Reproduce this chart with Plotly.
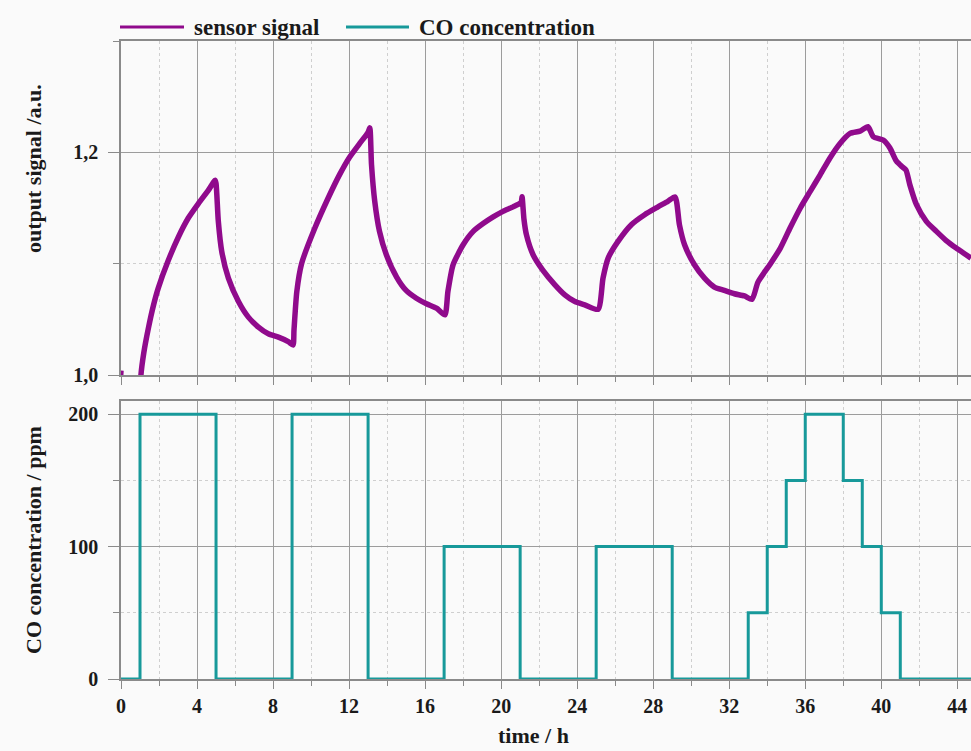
import plotly.graph_objects as go

# ---- data -------------------------------------------------------------
# sensor response (a.u.) versus time (h)
sig_time = [0.0, 0.05, 1.0, 1.05, 1.2, 1.44, 1.7, 1.96, 2.49, 3.02, 3.54, 4.07, 4.6, 4.95,
            5.0, 5.12, 5.3, 5.65, 6.18, 6.7, 7.23, 7.75, 8.28, 8.8, 9.05,
            9.1, 9.25, 9.5, 10.2, 10.9, 11.5, 12.0, 12.56, 13.0, 13.09,
            13.18, 13.35, 13.6, 13.96, 14.5, 15.0, 15.54, 16.07, 16.6, 17.04,
            17.2, 17.47, 18.0, 18.53, 19.05, 19.58, 20.1, 20.63, 21.05, 21.1,
            21.2, 21.33, 21.68, 22.2, 22.83, 23.35, 23.88, 24.4, 25.1,
            25.36, 25.63, 26.15, 26.85, 27.55, 28.25, 28.77, 29.15,
            29.38, 29.65, 30.17, 30.7, 31.22, 31.74, 32.27, 32.8, 33.2,
            33.5, 33.84, 34.17, 34.69, 35.2, 35.74, 36.26, 36.79, 37.3, 37.83,
            38.36, 38.88, 39.3, 39.58, 40.1, 40.45, 40.8, 41.1, 41.3,
            41.5, 41.85, 42.37, 42.9, 43.4, 43.94, 44.46, 44.72]
sig_value = [1.004, 0.96, 0.96, 1.0, 1.02, 1.042, 1.062, 1.078, 1.103, 1.124, 1.141, 1.154, 1.166, 1.175,
             1.172, 1.138, 1.111, 1.087, 1.066, 1.052, 1.043, 1.037, 1.034, 1.030, 1.027,
             1.040, 1.075, 1.100, 1.132, 1.159, 1.180, 1.195, 1.208, 1.218, 1.222,
             1.189, 1.156, 1.129, 1.108, 1.088, 1.076, 1.069, 1.064, 1.060, 1.054,
             1.075, 1.099, 1.117, 1.129, 1.136, 1.142, 1.147, 1.151, 1.155, 1.160,
             1.140, 1.126, 1.108, 1.094, 1.081, 1.072, 1.066, 1.063, 1.059,
             1.087, 1.105, 1.120, 1.135, 1.144, 1.151, 1.156, 1.160,
             1.135, 1.117, 1.099, 1.087, 1.079, 1.076, 1.073, 1.071, 1.068,
             1.083, 1.092, 1.100, 1.114, 1.132, 1.150, 1.165, 1.180, 1.195, 1.208,
             1.217, 1.219, 1.223, 1.214, 1.211, 1.204, 1.192, 1.187, 1.184,
             1.171, 1.153, 1.138, 1.129, 1.121, 1.114, 1.108, 1.105]

# CO dosing profile (ppm), step changes
co_time = [0, 1, 5, 9, 13, 17, 21, 25, 29, 33, 34, 35, 36, 38, 39, 40, 41, 45]
co_ppm = [0, 200, 0, 200, 0, 100, 0, 100, 0, 50, 100, 150, 200, 150, 100, 50, 0, 0]

# axis ticks
x_ticks = [0, 4, 8, 12, 16, 20, 24, 28, 32, 36, 40, 44]
sig_ticks = [1.0, 1.2]
sig_ticktext = ["1,0", "1,2"]
sig_minor = [1.1, 1.3]
co_ticks = [0, 100, 200]
co_minor = [50, 150]

# ---- styling ----------------------------------------------------------
W, H = 971, 751
PURPLE = "#900a8c"
TEAL = "#17999a"
BG = "#fafafa"
AXIS = "#8a8a8a"
GRID = "#9c9c9c"
MINOR_GRID = "#cfcfcf"
TEXT = "#1a1a1a"
FONT = "Liberation Serif"


def fx(px):
    return px / W


def fy(py):
    return 1 - py / H


fig = go.Figure()
fig.add_trace(go.Scatter(x=sig_time, y=sig_value, mode="lines", name="sensor signal",
                         line=dict(color=PURPLE, width=5.5, shape="spline", smoothing=0.6),
                         xaxis="x", yaxis="y", showlegend=False))
fig.add_trace(go.Scatter(x=co_time, y=co_ppm, mode="lines", name="CO concentration",
                         line=dict(color=TEAL, width=3, shape="hv"), xaxis="x2", yaxis="y2",
                         showlegend=False))

xcommon = dict(range=[0, 44.72], tickmode="array", tickvals=x_ticks, automargin=False,
               showline=True, linecolor=AXIS, linewidth=1.5, mirror=True,
               ticks="outside", ticklen=8, tickwidth=1.2, tickcolor=AXIS,
               showgrid=True, gridcolor=GRID, gridwidth=1, zeroline=False,
               minor=dict(dtick=2, tick0=0, ticks="outside", ticklen=5, tickcolor=AXIS,
                          showgrid=True, gridcolor=MINOR_GRID, griddash="dot", gridwidth=1),
               tickfont=dict(family=FONT, size=20, color=TEXT, weight="bold"),
               domain=[fx(121), 1.0])

ycommon = dict(showline=True, linecolor=AXIS, linewidth=1.5, mirror=False, automargin=False,
               ticks="outside", ticklen=11, tickwidth=1.2, tickcolor=AXIS,
               showgrid=True, gridcolor=GRID, gridwidth=1, zeroline=False,
               tickfont=dict(family=FONT, size=20, color=TEXT, weight="bold"),
               ticklabelstandoff=6)

fig.update_layout(
    template="none",
    width=W, height=H, autosize=False,
    margin=dict(l=0, r=0, t=0, b=0, pad=0, autoexpand=False),
    paper_bgcolor=BG, plot_bgcolor=BG,
    showlegend=False,
    xaxis=dict(**xcommon, anchor="y", showticklabels=False),
    yaxis=dict(**ycommon, anchor="x", range=[1.0, 1.3], domain=[fy(375), fy(41)],
               tickmode="array", tickvals=sig_ticks, ticktext=sig_ticktext,
               minor=dict(tickmode="array", tickvals=sig_minor, ticks="outside", ticklen=6,
                          tickcolor=AXIS, showgrid=True, gridcolor=MINOR_GRID,
                          griddash="dot", gridwidth=1)),
    xaxis2=dict(**xcommon, anchor="y2", showticklabels=True),
    yaxis2=dict(**ycommon, anchor="x2", range=[0, 210], domain=[fy(679), fy(401)],
                tickmode="array", tickvals=co_ticks,
                minor=dict(tickmode="array", tickvals=co_minor, ticks="outside", ticklen=6,
                           tickcolor=AXIS, showgrid=True, gridcolor=MINOR_GRID,
                           griddash="dot", gridwidth=1)),
)

title_font = dict(family=FONT, size=22, color=TEXT, weight="bold")
fig.add_annotation(x=fx(33), y=fy(169), xref="paper", yref="paper", text="output signal /a.u.",
                   textangle=-90, showarrow=False, font=title_font,
                   xanchor="center", yanchor="middle")
fig.add_annotation(x=fx(33), y=fy(540), xref="paper", yref="paper", text="CO concentration / ppm",
                   textangle=-90, showarrow=False, font=title_font,
                   xanchor="center", yanchor="middle")
fig.add_annotation(x=fx(533), y=fy(735), xref="paper", yref="paper", text="time / h",
                   showarrow=False, font=title_font, xanchor="center", yanchor="middle")

# legend drawn across the top
legend_font = dict(family=FONT, size=23, color=TEXT, weight="bold")
fig.add_shape(type="line", xref="paper", yref="paper", x0=fx(120), x1=fx(184),
              y0=fy(27), y1=fy(27), line=dict(color=PURPLE, width=3))
fig.add_annotation(x=fx(192), y=fy(27), xref="paper", yref="paper", text="sensor signal",
                   showarrow=False, font=legend_font, xanchor="left", yanchor="middle")
fig.add_shape(type="line", xref="paper", yref="paper", x0=fx(346), x1=fx(409),
              y0=fy(27), y1=fy(27), line=dict(color=TEAL, width=3))
fig.add_annotation(x=fx(417), y=fy(27), xref="paper", yref="paper", text="CO concentration",
                   showarrow=False, font=legend_font, xanchor="left", yanchor="middle")

fig.write_html("out.html")
